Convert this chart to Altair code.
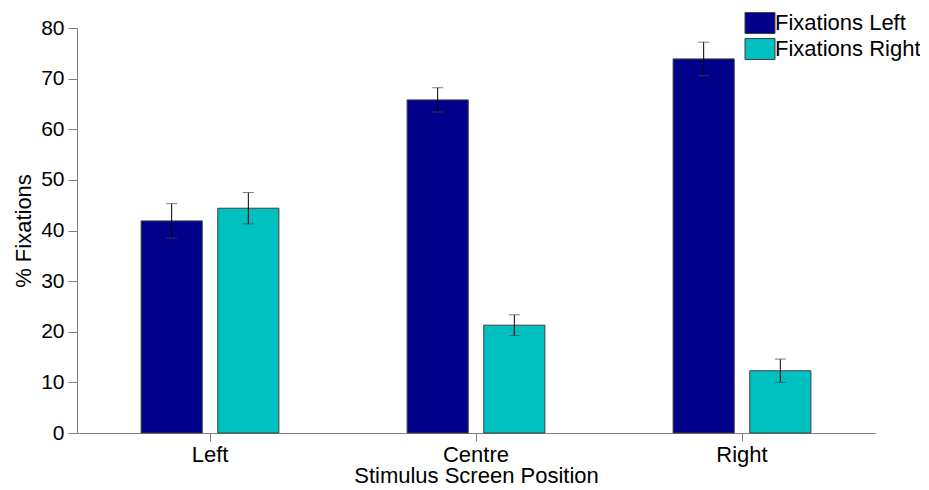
import altair as alt
import pandas as pd

positions = ["Left", "Centre", "Right"]
series = ["Fixations Left", "Fixations Right"]
fix_left = [41.9, 65.8, 73.9]
fix_left_err = [3.4, 2.4, 3.3]
fix_right = [44.4, 21.3, 12.3]
fix_right_err = [3.1, 2.05, 2.3]

rows = []
for i, p in enumerate(positions):
    rows.append({"pos": p, "series": series[0], "val": fix_left[i],
                 "lo": fix_left[i] - fix_left_err[i], "hi": fix_left[i] + fix_left_err[i]})
    rows.append({"pos": p, "series": series[1], "val": fix_right[i],
                 "lo": fix_right[i] - fix_right_err[i], "hi": fix_right[i] + fix_right_err[i]})
df = pd.DataFrame(rows)

FONT = "Liberation Sans"

x = alt.X("pos:N", sort=positions, title="Stimulus Screen Position",
          scale=alt.Scale(paddingInner=0.482, paddingOuter=0.241),
          axis=alt.Axis(labelAngle=0, labelFontSize=22, titleFontSize=22,
                        labelFont=FONT, titleFont=FONT, labelColor="black",
                        titleColor="black", titleFontWeight="normal",
                        domainColor="#808080", tickColor="#808080",
                        tickSize=8, labelPadding=3, titlePadding=0, grid=False))
xo = alt.XOffset("series:N", sort=series,
                 scale=alt.Scale(paddingInner=0.2026, paddingOuter=0))

bars = alt.Chart(df).mark_bar(stroke="#404040", strokeWidth=1).encode(
    x=x,
    xOffset=xo,
    y=alt.Y("val:Q", title="% Fixations",
            scale=alt.Scale(domain=[0, 80], nice=False),
            axis=alt.Axis(values=list(range(0, 81, 10)), labelFontSize=21,
                          titleFontSize=22, labelFont=FONT, titleFont=FONT,
                          labelColor="black", titleColor="black",
                          titleFontWeight="normal", domainColor="#808080",
                          tickColor="#808080", tickSize=9, labelPadding=4,
                          titlePadding=5, grid=False)),
    color=alt.Color("series:N", sort=series,
                    scale=alt.Scale(domain=series, range=["#00008B", "#00C0C0"]),
                    legend=alt.Legend(title=None, orient="none", legendX=672, legendY=-16,
                                      symbolType="M-1.43,-1H1.43V1H-1.43Z", symbolSize=441,
                                      symbolStrokeColor="#404040", symbolStrokeWidth=1,
                                      labelFontSize=22, labelFont=FONT, labelColor="black",
                                      rowPadding=0, labelOffset=4, labelLimit=300)),
)

rules = alt.Chart(df).mark_rule(color="black", strokeWidth=1).encode(
    x=alt.X("pos:N", sort=positions), xOffset=xo,
    y="lo:Q", y2="hi:Q")

caps_hi = alt.Chart(df).mark_tick(color="#444444", thickness=1, size=11, orient="horizontal").encode(
    x=alt.X("pos:N", sort=positions), xOffset=xo, y="hi:Q")
caps_lo = alt.Chart(df).mark_tick(color="#444444", thickness=1, size=11, orient="horizontal").encode(
    x=alt.X("pos:N", sort=positions), xOffset=xo, y="lo:Q")

chart = alt.layer(bars, rules, caps_hi, caps_lo).properties(
    width=798, height=405,
    background="white",
    autosize=alt.AutoSizeParams(type="none"),
    padding={"left": 69, "top": 20, "right": 45, "bottom": 54},
).configure_view(stroke=None, strokeWidth=0)

chart.save("out.html", embed_options={"renderer": "svg", "actions": False})
